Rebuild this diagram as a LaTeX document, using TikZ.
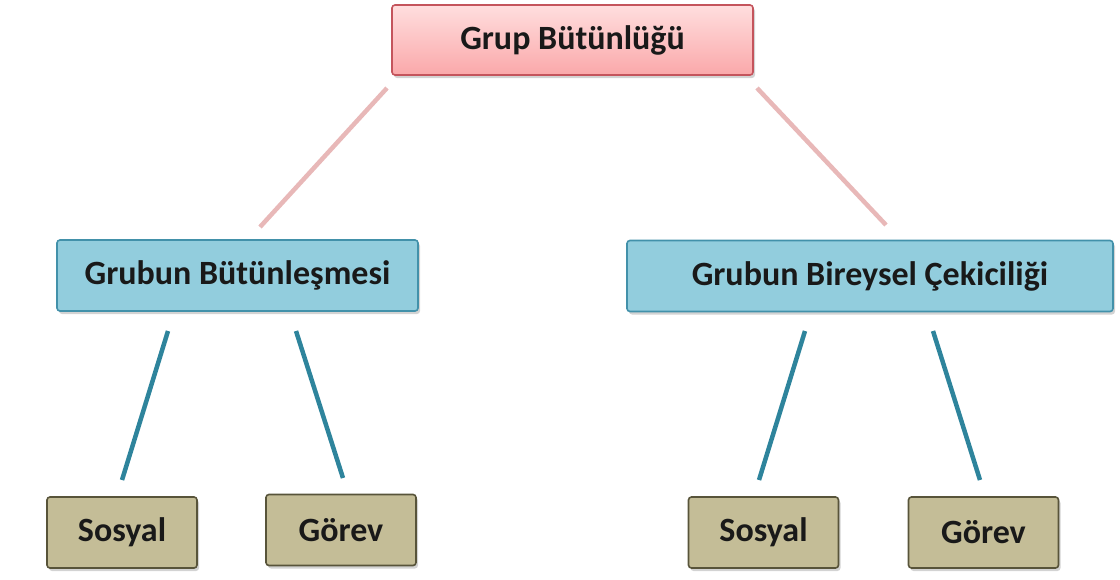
\documentclass[tikz,border=0pt]{standalone}
\usepackage{fontspec}
\setmainfont{Carlito}
\usetikzlibrary{shadows}
\definecolor{topfillA}{RGB}{255,222,222}
\definecolor{topfillB}{RGB}{250,168,170}
\definecolor{topline}{RGB}{196,84,92}
\definecolor{midfill}{RGB}{146,205,221}
\definecolor{midline}{RGB}{66,145,170}
\definecolor{botfill}{RGB}{196,189,151}
\definecolor{botline}{RGB}{88,84,58}
\definecolor{pinkconn}{RGB}{232,184,184}
\definecolor{tealconn}{RGB}{46,132,156}
\tikzset{
  box/.style={rectangle, rounded corners=3pt, line width=1.6pt, inner sep=0pt,
    font=\bfseries\fontsize{34}{40}\selectfont, text=black!90,
    drop shadow={shadow xshift=2pt, shadow yshift=-3pt, opacity=0.35}},
  topbox/.style={box, draw=topline, top color=topfillA, bottom color=topfillB,
    minimum width=361pt, minimum height=70pt},
  midbox/.style={box, draw=midline, fill=midfill, minimum height=71pt},
  botbox/.style={box, draw=botline, fill=botfill, minimum width=150pt, minimum height=71pt},
  pinkline/.style={draw=pinkconn, line width=4.5pt},
  tealline/.style={draw=tealconn, line width=4.5pt},
}
\begin{document}
\begin{tikzpicture}[x=1pt,y=-1pt]
\useasboundingbox (0,0) rectangle (1120,579);
\node[topbox] (top) at (572.5,40) {Grup Bütünlüğü};
\node[midbox, minimum width=361pt] (ml) at (237.5,275.5) {Grubun Bütünleşmesi};
\node[midbox, minimum width=486pt] (mr) at (870,276) {Grubun Bireysel Çekiciliği};
\node[botbox] (s1) at (122,532.5) {Sosyal};
\node[botbox] (g1) at (341,530) {Görev};
\node[botbox] (s2) at (763.5,532.5) {Sosyal};
\node[botbox] (g2) at (983.5,532.5) {Görev};
% connector ends
\coordinate (a1) at (387,88); \coordinate (a2) at (260,227);
\coordinate (b1) at (757,88); \coordinate (b2) at (886,225);
\coordinate (c1) at (168,331); \coordinate (c2) at (122,480);
\coordinate (d1) at (296,331); \coordinate (d2) at (343,478);
\coordinate (e1) at (805,331); \coordinate (e2) at (759,480);
\coordinate (f1) at (933,331); \coordinate (f2) at (980,480);
\draw[pinkline] (a1) -- (a2);
\draw[pinkline] (b1) -- (b2);
\draw[tealline] (c1) -- (c2);
\draw[tealline] (d1) -- (d2);
\draw[tealline] (e1) -- (e2);
\draw[tealline] (f1) -- (f2);
\end{tikzpicture}
\end{document}
